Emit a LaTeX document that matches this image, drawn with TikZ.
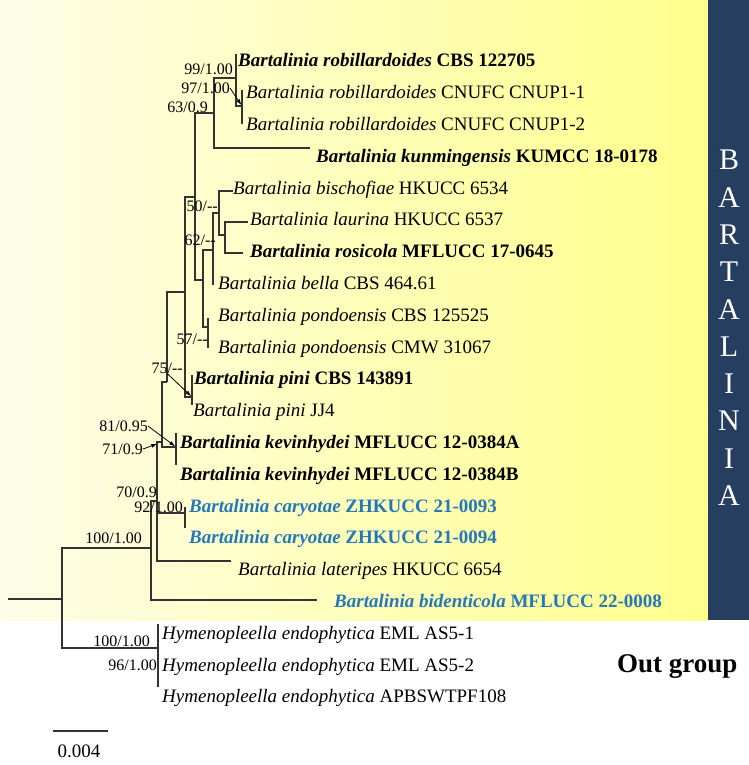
\documentclass[tikz,border=0pt]{standalone}
\usepackage{fontspec}
\setmainfont{Liberation Serif}
\usetikzlibrary{arrows.meta}
\definecolor{barblue}{RGB}{38,63,96}
\definecolor{taxblue}{RGB}{35,120,185}
\definecolor{paleyellow}{RGB}{253,253,232}
\definecolor{brightyellow}{RGB}{255,255,140}
\tikzset{
  branch/.style={line width=1.1bp, black!80},
  taxon/.style={anchor=base west, inner sep=0pt, font=\fontsize{19bp}{22bp}\selectfont},
  support/.style={anchor=east, inner sep=0pt, font=\fontsize{16bp}{18bp}\selectfont},
  pointer/.style={-{Latex[length=6bp,width=4bp]}, line width=0.8bp, shorten >=1bp},
  genus/.style={white, inner sep=0pt, font=\fontsize{30bp}{32bp}\selectfont},
}
\begin{document}
\begin{tikzpicture}[x=1bp,y=-1bp]
  \useasboundingbox (0,0) rectangle (749,765);
  % background
  \fill[left color=paleyellow,right color=brightyellow] (0,0) rectangle (708,620);
  \fill[barblue] (708,0) rectangle (749,620);
  \foreach \l [count=\k from 0] in {B,A,R,T,A,L,I,N,I,A}
    \node[genus] (g\k) at (729,{160+37.3*\k}) {\l};

  % inner nodes
  \foreach \n/\x/\y in {root/62/599, ingr/151/548, outg/158/648, na/157/501, car/185/513,
      nb/162/442, kev/176/447, nc/167/382, nd/185/292, pini/192/397, ne/195/197,
      nk/214/113, nr/236/78, cn/242/106, nf/203/280, ng/213/250, nh/219/213,
      ni/225/235, pon/208/327}
    \coordinate (\n) at (\x,\y);
  % branch ends
  \foreach \i/\x/\y in {1/236/54, 2/242/90, 3/242/124, 4/310/148, 5/233/191, 6/248/222,
      7/243/253, 8/213/285, 9/208/318, 10/208/348, 11/192/375, 12/192/405, 13/176/433,
      14/176/465, 15/185/507, 16/185/528, 17/231/561, 18/317/600, 19/158/624, 21/158/687}
    \coordinate (e\i) at (\x,\y);
  \coordinate (base) at (8,599);

  % branches
  \draw[branch] (base) -- (root);
  \foreach \p/\c in {root/ingr, root/outg, ingr/na, ingr/e18, outg/e19, outg/e21,
      na/nb, na/car, na/e17, car/e15, car/e16, nb/nc, nb/kev, kev/e13, kev/e14,
      nc/nd, nd/ne, nd/pini, pini/e11, pini/e12, ne/nk, ne/nf, nk/nr, nk/e4,
      nr/e1, nr/cn, cn/e2, cn/e3, nf/ng, nf/pon, pon/e9, pon/e10, ng/nh, ng/e8,
      nh/e5, nh/ni, ni/e6, ni/e7}
    \draw[branch] (\p) |- (\c);

  % taxa
  \node[taxon] (t1) at (238,67) {\textbf{\textit{Bartalinia robillardoides} CBS 122705}};
  \node[taxon] (t2) at (246,98.6) {\textit{Bartalinia robillardoides} CNUFC CNUP1-1};
  \node[taxon] (t3) at (246,130.4) {\textit{Bartalinia robillardoides} CNUFC CNUP1-2};
  \node[taxon] (t4) at (316,162.2) {\textbf{\textit{Bartalinia kunmingensis} KUMCC 18-0178}};
  \node[taxon] (t5) at (233,194) {\textit{Bartalinia bischofiae} HKUCC 6534};
  \node[taxon] (t6) at (250,225.8) {\textit{Bartalinia laurina} HKUCC 6537};
  \node[taxon] (t7) at (250,257.6) {\textbf{\textit{Bartalinia rosicola} MFLUCC 17-0645}};
  \node[taxon] (t8) at (218,289.4) {\textit{Bartalinia bella} CBS 464.61};
  \node[taxon] (t9) at (218,321.2) {\textit{Bartalinia pondoensis} CBS 125525};
  \node[taxon] (t10) at (218,353) {\textit{Bartalinia pondoensis} CMW 31067};
  \node[taxon] (t11) at (194,384.8) {\textbf{\textit{Bartalinia pini} CBS 143891}};
  \node[taxon] (t12) at (193,416.6) {\textit{Bartalinia pini} JJ4};
  \node[taxon] (t13) at (180,448.4) {\textbf{\textit{Bartalinia kevinhydei} MFLUCC 12-0384A}};
  \node[taxon] (t14) at (180,480.2) {\textbf{\textit{Bartalinia kevinhydei} MFLUCC 12-0384B}};
  \node[taxon, taxblue] (t15) at (189,512) {\textbf{\textit{Bartalinia caryotae} ZHKUCC 21-0093}};
  \node[taxon, taxblue] (t16) at (189,543.8) {\textbf{\textit{Bartalinia caryotae} ZHKUCC 21-0094}};
  \node[taxon] (t17) at (238,575.6) {\textit{Bartalinia lateripes} HKUCC 6654};
  \node[taxon, taxblue] (t18) at (334,607.4) {\textbf{\textit{Bartalinia bidenticola} MFLUCC 22-0008}};
  \node[taxon] (t19) at (162,639.2) {\textit{Hymenopleella endophytica} EML AS5-1};
  \node[taxon] (t20) at (162,671) {\textit{Hymenopleella endophytica} EML AS5-2};
  \node[taxon] (t21) at (162,702.8) {\textit{Hymenopleella endophytica} APBSWTPF108};
  \node[anchor=base west, inner sep=0pt, font=\fontsize{27bp}{30bp}\selectfont\bfseries] (og) at (617,672) {Out group};

  % support values
  \node[support] (s1) at (233,69) {99/1.00};
  \node[support] (s2) at (230,88) {97/1.00};
  \node[support] (s3) at (208,107) {63/0.9};
  \node[support] (s4) at (218,206) {50/{-}{-}};
  \node[support] (s5) at (216,240) {62/{-}{-}};
  \node[support] (s6) at (208,339) {57/{-}{-}};
  \node[support] (s7) at (183,368) {75/{-}{-}};
  \node[support] (s8) at (148,426) {81/0.95};
  \node[support] (s9) at (143,449) {71/0.9};
  \node[support] (s10) at (157,492) {70/0.9};
  \node[support] (s11) at (183,507) {92/1.00};
  \node[support] (s12) at (142,538) {100/1.00};
  \node[support] (s13) at (150,641) {100/1.00};
  \node[support] (s14) at (157,665) {96/1.00};
  \draw[pointer] (s2.east) -- (cn);
  \draw[pointer] (s7.south) -- (pini);
  \draw[pointer] (s8.east) -- (kev);
  \draw[pointer, shorten >=5bp] (s9.east) -- (nb);

  % scale bar
  \coordinate (sb1) at (53,731);
  \coordinate (sb2) at (108,731);
  \draw[branch] (sb1) -- (sb2);
  \node[font=\fontsize{19bp}{22bp}\selectfont, inner sep=0pt] (sbl) at (79,751) {0.004};
\end{tikzpicture}
\end{document}
